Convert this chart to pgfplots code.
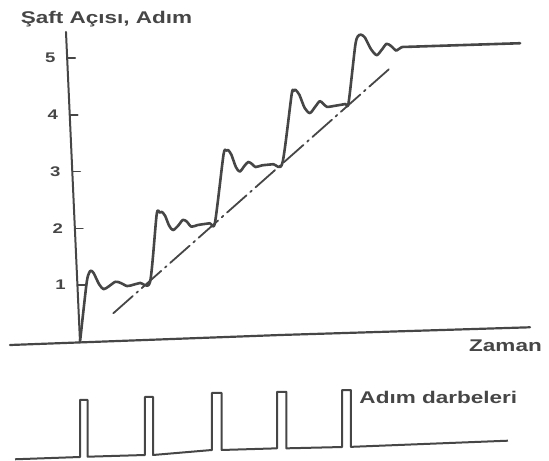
\documentclass[border=0pt]{standalone}
\usepackage{pgfplots}
\pgfplotsset{compat=1.18}
\usepackage{fontspec}
\setmainfont{Liberation Sans}[FakeStretch=1.33]
\definecolor{ink}{RGB}{70,70,70}
\begin{document}
\begin{tikzpicture}
\path[use as bounding box] (0,0) rectangle (549bp,461bp);
% upper axis: shaft angle (steps) vs time (step periods)
\begin{axis}[
  at={(0,0)}, anchor=south west,
  scale only axis, width=549bp, height=461bp,
  xmin=-1.22137, xmax=7.16031, ymin=-2.09507, ymax=6.02113,
  hide axis, clip=false,
  every axis plot/.append style={color=ink, line join=round, line cap=round},
]
% time axis (x) and angle axis (y)
\addplot[line width=2.2bp] coordinates {(-1.069,-0.053) (3.053,0.123) (6.870,0.259)};
\addplot[line width=2bp] coordinates {(0,0) (-0.214,5.458)};
% tick marks
\addplot[line width=1.6bp] coordinates {(-0.039,1) (0.10,1)};
\addplot[line width=1.6bp] coordinates {(-0.078,2) (0.045,2)};
\addplot[line width=1.6bp] coordinates {(-0.117,3) (0.005,3)};
\addplot[line width=1.6bp] coordinates {(-0.156,4) (-0.034,4)};
\addplot[line width=1.6bp] coordinates {(-0.195,5) (-0.073,5)};
% dash-dot ideal line
\addplot[line width=1.8bp, dash pattern=on 26bp off 5bp on 2bp off 5bp] coordinates {(0.508,0.505) (4.733,4.819)};
% shaft angle response
\addplot[line width=2.6bp, smooth, tension=0.45] coordinates {
(0,0) (0.10,1.03) (0.14,1.22) (0.17,1.255) (0.21,1.21) (0.29,1.02) (0.36,0.93)
(0.44,0.98) (0.54,1.06) (0.62,1.04) (0.72,0.985) (0.82,1.01) (0.92,1.04) (1.07,1.06)
(1.17,2.24) (1.215,2.28) (1.25,2.29) (1.30,2.22) (1.36,2.05) (1.42,1.97) (1.50,2.05)
(1.57,2.15) (1.63,2.12) (1.70,2.03) (1.80,2.06) (1.98,2.09) (2.06,2.10)
(2.19,3.29) (2.23,3.37) (2.26,3.38) (2.31,3.30) (2.38,3.08) (2.44,3.00) (2.51,3.10)
(2.57,3.17) (2.63,3.13) (2.68,3.08) (2.78,3.11) (2.95,3.13) (3.09,3.15)
(3.23,4.35) (3.26,4.42) (3.29,4.44) (3.35,4.35) (3.43,4.12) (3.51,4.03) (3.59,4.14)
(3.66,4.24) (3.71,4.20) (3.77,4.14) (3.90,4.16) (4.05,4.19) (4.10,4.21)
(4.20,5.20) (4.24,5.38) (4.29,5.41) (4.35,5.36) (4.44,5.16) (4.53,5.05) (4.61,5.15)
(4.68,5.25) (4.75,5.21) (4.83,5.13) (4.91,5.19) (5.10,5.20) (6.72,5.26)
};
% labels
\begin{scope}[every node/.style={text=ink, font=\bfseries\fontsize{14}{16}\selectfont, anchor=center}]
\node at (axis cs:-0.299,1) {1};
\node at (axis cs:-0.338,2) {2};
\node at (axis cs:-0.377,3) {3};
\node at (axis cs:-0.416,4) {4};
\node at (axis cs:-0.455,5) {5};
\end{scope}
\node[text=ink, font=\bfseries\fontsize{17}{20}\selectfont, anchor=base] at (axis cs:0.405,5.607) {Şaft Açısı, Adım};
\node[text=ink, font=\bfseries\fontsize{17}{20}\selectfont, anchor=base] at (axis cs:6.496,-0.176) {Zaman};
\node[text=ink, font=\bfseries\fontsize{17}{20}\selectfont, anchor=base] at (axis cs:5.471,-1.083) {Adım darbeleri};
\end{axis}
% lower axis: step pulses
\begin{axis}[
  at={(0,0)}, anchor=south west,
  scale only axis, width=549bp, height=461bp,
  xmin=-1.22137, xmax=7.16031, ymin=-0.0702, ymax=8.0175,
  hide axis, clip=false,
]
\addplot[color=ink, line width=2bp, line join=round] coordinates {
(-0.992,-0.04) (0,0) (0,1.0) (0.115,1.0) (0.115,0.005)
(0.992,0.035) (0.992,1.053) (1.115,1.053) (1.115,0.035)
(2.015,0.123) (2.015,1.123) (2.163,1.123) (2.163,0.123)
(3.008,0.152) (3.008,1.144) (3.150,1.144) (3.150,0.152)
(4.0,0.175) (4.0,1.175) (4.137,1.175) (4.137,0.178)
(6.534,0.286)
};
\end{axis}
\end{tikzpicture}
\end{document}
